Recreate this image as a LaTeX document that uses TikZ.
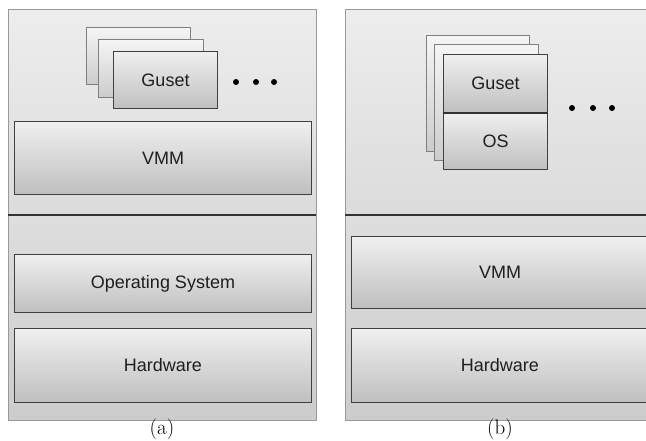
\documentclass[tikz,border=0pt]{standalone}
\usepackage{fontspec}
\setsansfont{Liberation Sans}
\begin{document}
\begin{tikzpicture}[x=1pt,y=-1pt,
  panel/.style={draw=black!40, line width=0.8pt},
  upper/.style={top color=black!7, bottom color=black!14},
  lower/.style={top color=black!13, bottom color=black!20},
  divider/.style={draw=black!80, line width=1.8pt},
  layerbox/.style={draw=black!75, line width=1pt, top color=black!6, bottom color=black!25,
     anchor=north west, inner sep=0pt, font=\sffamily\fontsize{18}{20}\selectfont, text=black!88},
  backbox/.style={draw=black!50, line width=0.8pt, top color=black!4, bottom color=black!20,
     anchor=north west, inner sep=0pt},
  dot/.style={circle, fill=black, inner sep=0pt, minimum size=6pt},
  caption/.style={font=\fontsize{21}{23}\selectfont}
]
\useasboundingbox (0,0) rectangle (646,440);
\clip (0,0) rectangle (646,440);
% panel (a)
\path[upper] (8,9) rectangle (316,215);
\path[lower] (8,215) rectangle (316,420);
\draw[panel] (8,9) rectangle (316,420);
\draw[divider] (8,215) -- (316,215);
% panel (b)
\path[upper] (345,9) rectangle (660,215);
\path[lower] (345,215) rectangle (660,420);
\draw[panel] (345,9) rectangle (660,420);
\draw[divider] (345,215) -- (660,215);

% (a) guests
\node[backbox, minimum width=104pt, minimum height=57pt] (ga1) at (86,27) {};
\node[backbox, minimum width=105pt, minimum height=58pt] (ga2) at (98,39) {};
\node[layerbox, minimum width=104pt, minimum height=57pt] (ga3) at (113,51) {Guset};
\node[dot] (da1) at (236,82) {};
\node[dot] (da2) at (256,82) {};
\node[dot] (da3) at (274,82) {};
% (a) layers
\node[layerbox, minimum width=297pt, minimum height=73pt] (vmma) at (14,121) {VMM};
\node[layerbox, minimum width=297pt, minimum height=58pt] (osa) at (14,254) {Operating System};
\node[layerbox, minimum width=297pt, minimum height=74pt] (hwa) at (14,328) {Hardware};

% (b) guests
\node[backbox, minimum width=103pt, minimum height=116pt] (gb1) at (426,35) {};
\node[backbox, minimum width=104pt, minimum height=116pt] (gb2) at (434,44) {};
\node[layerbox, minimum width=104pt, minimum height=58pt] (gb3) at (443,54) {Guset};
\node[layerbox, minimum width=104pt, minimum height=57pt] (osb) at (443,112) {OS};
\draw[divider] (gb3.south west) -- (gb3.south east);
\node[dot] (db1) at (572,108) {};
\node[dot] (db2) at (593,108) {};
\node[dot] (db3) at (612,108) {};
% (b) layers
\node[layerbox, minimum width=297pt, minimum height=72pt] (vmmb) at (351,236) {VMM};
\node[layerbox, minimum width=297pt, minimum height=74pt] (hwb) at (351,328) {Hardware};

% captions
\node[caption] (capa) at (162,429) {(a)};
\node[caption] (capb) at (500,429) {(b)};
\end{tikzpicture}
\end{document}
